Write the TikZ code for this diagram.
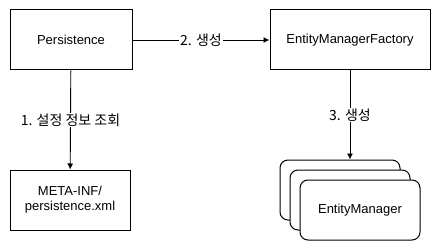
\documentclass[tikz,border=0pt]{standalone}
\usepackage{fontspec}
\setmainfont{Liberation Sans}
\newfontfamily\krfont{Noto Sans CJK KR}
\usetikzlibrary{arrows.meta,positioning,calc}
\tikzset{block/.style={rectangle, draw=black, line width=1pt, fill=white, minimum width=120pt, minimum height=60pt, align=center, font=\fontsize{13}{15}\selectfont},
	manager/.style={block, rounded corners=8pt},
	step label/.style={fill=white, inner sep=1pt, font=\krfont\fontsize{14}{16}\selectfont},
	flow/.style={draw=black, line width=0.9pt, -{Latex[length=6pt,width=6pt]}}}

\begin{document}
\begin{tikzpicture}[x=1pt,y=-1pt]
		\useasboundingbox (0,0) rectangle (441,251);
		\node[block, minimum width=122pt] (persistence) at (71,40) {Persistence};
		\node[block, minimum width=160pt] (emf) at (350,40) {EntityManagerFactory};
		\node[block] (meta) at (70,200) {META-INF/\\persistence.xml};
		% stacked managers, back to front
		\node[manager] (em1) at (340,190) {};
		\node[manager] (em2) at (350,200) {};
		\node[manager] (em3) at (360,210) {EntityManager};
		\draw[flow] (persistence) -- node[step label]{1. 설정 정보 조회} (meta);
		\draw[flow] (persistence) -- node[step label]{2. 생성} (emf);
		\draw[flow] (emf) -- node[step label]{3. 생성} (emf |- em1.north);
		\end{tikzpicture}
\end{document}
